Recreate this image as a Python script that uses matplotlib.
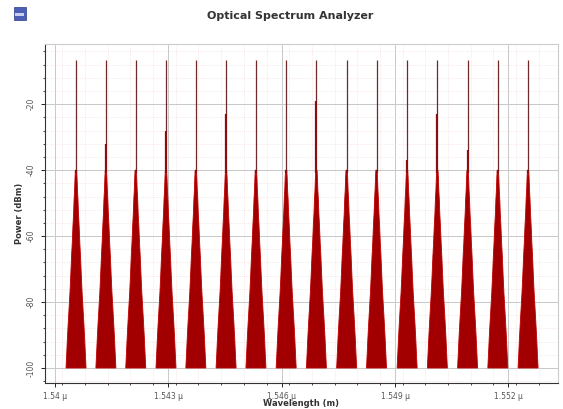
import numpy as np
import matplotlib.pyplot as plt
from matplotlib.patches import Rectangle
from matplotlib.ticker import MultipleLocator

plt.rcParams['axes.unicode_minus'] = False

# Canal WDM: longitudes de onda centrales (nm) y potencia de pico (dBm)
wavelengths = [1540.56, 1541.35, 1542.14, 1542.94, 1543.73, 1544.53, 1545.32, 1546.12,
               1546.92, 1547.72, 1548.51, 1549.32, 1550.12, 1550.92, 1551.72, 1552.52]
peak_power = [-6.5] * 16
# nivel donde empieza el tramo grueso de cada pico (dBm)
shoulder = [-40, -32, -40, -28, -40, -23, -40, -40, -19, -40, -40, -37, -23, -34, -40, -40]

# Perfil de la falda del espectro: semiancho (nm) frente a nivel (dBm)
skirt_hw = [0.0, 0.016, 0.026, 0.038, 0.052, 0.064, 0.082, 0.1, 0.118, 0.14, 0.16, 0.185, 0.205, 0.228, 0.248, 0.265]
skirt_lv = [-40, -40, -42, -46, -49, -53, -57, -62, -66, -72, -77, -82, -86, -91, -96, -100]

# Ejes
tick_pos = [1.540, 1.543, 1.546, 1.549, 1.552]
tick_lab = ['1.54 \u00b5', '1.543 \u00b5', '1.546 \u00b5', '1.549 \u00b5', '1.552 \u00b5']

fig = plt.figure(figsize=(5.63, 4.09), dpi=100)
ax = fig.add_axes([0.080, 0.064, 0.911, 0.828])

fill_c = '#a20000'
for wl, pk, sh in zip(wavelengths, peak_power, shoulder):
    c = wl * 1e-9
    hw = np.array(skirt_hw) * 1e-9
    lv = np.array(skirt_lv)
    xs = np.concatenate([c - hw[::-1], c + hw])
    ys = np.concatenate([lv[::-1], lv])
    ax.fill(xs, ys, color=fill_c, lw=0.6, ec='#c00000', zorder=3)
    ax.vlines(c, sh, pk, color='#6e2a2a', lw=0.9, zorder=4)
    ax.vlines(c, -41, sh, color='#8a0d0d', lw=1.6, zorder=4)

ax.set_xlim(1.53974e-6, 1.55331e-6)
ax.set_ylim(-104.5, -1.8)

ax.set_xticks([t * 1e-6 for t in tick_pos])
ax.set_xticklabels(tick_lab)
ax.xaxis.set_minor_locator(MultipleLocator(0.6e-9))
ax.yaxis.set_major_locator(MultipleLocator(20))
ax.yaxis.set_minor_locator(MultipleLocator(4))

ax.grid(which='major', color='#c8c8c8', lw=0.7)
ax.grid(which='minor', color='#f2d6d6', lw=0.5, ls=':')
ax.set_axisbelow(True)

ax.tick_params(axis='both', which='major', labelsize=5.5, labelcolor='#555555', length=3, width=0.6)
ax.tick_params(axis='both', which='minor', length=1.5, width=0.5)
for lab in ax.get_yticklabels():
    lab.set_rotation(90)
    lab.set_va('center')

for side in ['top', 'right']:
    ax.spines[side].set_color('#cccccc')
for side in ['left', 'bottom']:
    ax.spines[side].set_color('#333333')
    ax.spines[side].set_linewidth(0.8)

ax.set_xlabel('Wavelength (m)', fontsize=6, fontweight='bold', color='#333333', labelpad=-1)
ax.set_ylabel('Power (dBm)', fontsize=6, fontweight='bold', color='#333333', labelpad=2)

fig.text(0.515, 0.962, 'Optical Spectrum Analyzer', ha='center', va='center',
         fontsize=8, fontweight='bold', color='#333333')

# icono en la esquina superior izquierda
fig.patches.append(Rectangle((0.024, 0.952), 0.022, 0.032, transform=fig.transFigure,
                             facecolor='#4a5fb5', edgecolor='#2a3a80', lw=0.5))
fig.patches.append(Rectangle((0.027, 0.962), 0.016, 0.006, transform=fig.transFigure,
                             facecolor='#c8d0f0', edgecolor='none'))

fig.savefig('out.png', dpi=100)
